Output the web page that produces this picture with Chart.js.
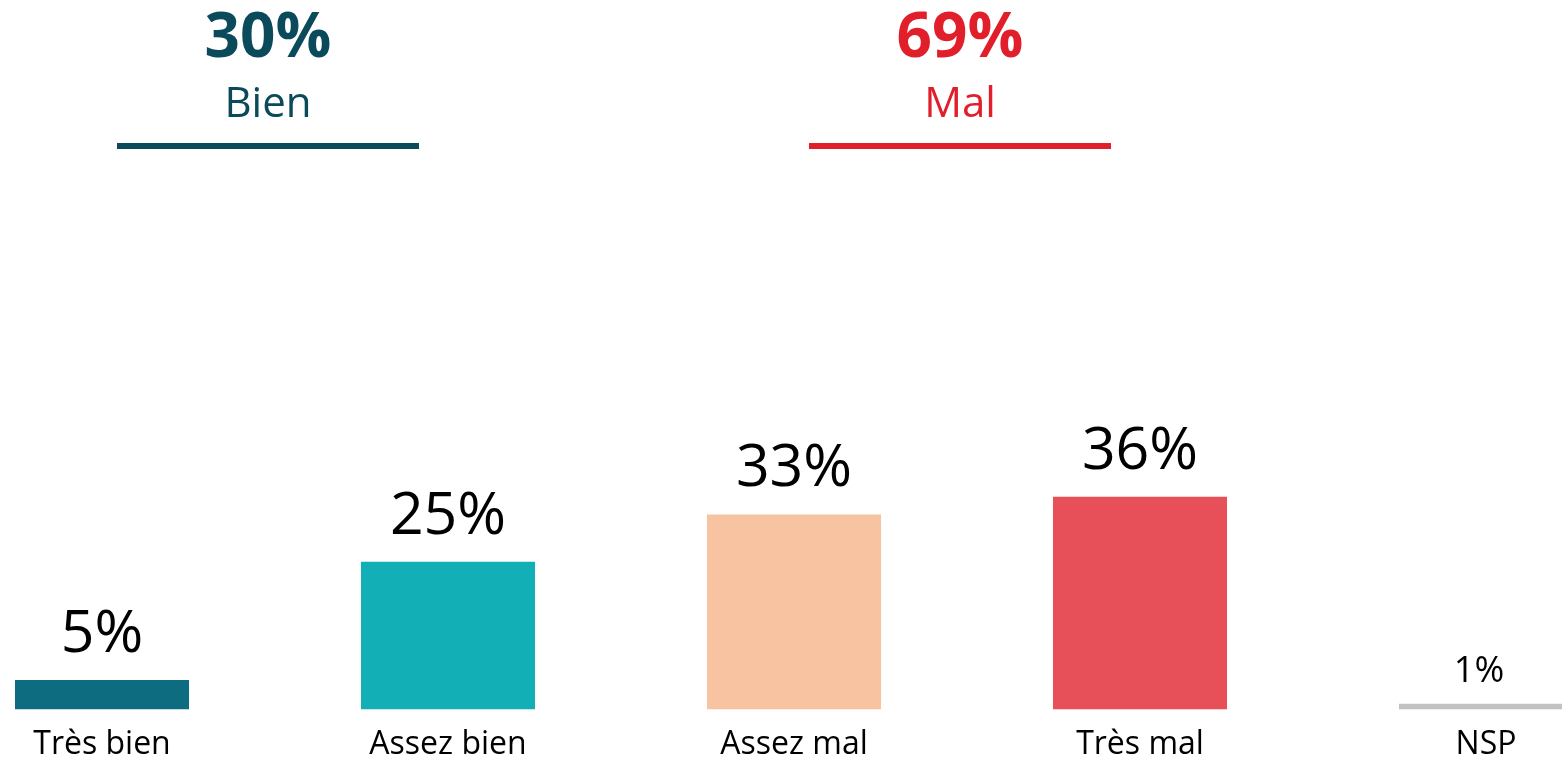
<!DOCTYPE html>
<html>
<head>
<meta charset="utf-8">
<script src="https://cdn.jsdelivr.net/npm/chart.js@4.4.1/dist/chart.umd.min.js"></script>
<style>
  html, body { margin: 0; padding: 0; background: #fff; overflow: hidden; }
  #wrap { position: absolute; left: -71px; top: 0; width: 1730px; height: 758px; }
</style>
</head>
<body>
<div id="wrap"><canvas id="myBarChart" width="1730" height="758"></canvas></div>
<script>
// données
const categories = ["Très bien", "Assez bien", "Assez mal", "Très mal", "NSP"];
const values = [5, 25, 33, 36, 1];
const barColors = ['#0e6c80', '#13afb7', '#f7c3a1', '#e75058', '#c2c2c2'];
const groupLabels = ["Bien", "Mal"];
const groupValues = [30, 69];
const groupMembers = [[0, 1], [2, 3]];
const groupColors = ['#0b4a5a', '#e01f2b'];

const FONT = "'Open Sans', sans-serif";

// pourcentages au-dessus des barres + titres de groupe
const labelsPlugin = {
  id: 'labelsPlugin',
  afterDatasetsDraw(chart) {
    const ctx = chart.ctx;
    const meta = chart.getDatasetMeta(0);
    const xs = chart.scales.x;
    ctx.save();
    ctx.textAlign = 'center';
    ctx.textBaseline = 'alphabetic';
    ctx.fillStyle = '#000';
    meta.data.forEach(function(bar, i) {
      const small = categories[i] === 'NSP';
      ctx.font = (small ? '36px ' : '59px ') + FONT;
      ctx.fillText(values[i] + '%', bar.x - (small ? 7 : 0), bar.y - (small ? 22 : 28));
    });
    // en-têtes Bien / Mal
    groupLabels.forEach(function(g, k) {
      const a = xs.getPixelForValue(groupMembers[k][0]);
      const b = xs.getPixelForValue(groupMembers[k][1]);
      const cx = (a + b) / 2 - 7;
      ctx.fillStyle = groupColors[k];
      ctx.font = 'bold 62px ' + FONT;
      ctx.fillText(groupValues[k] + '%', cx, 57);
      ctx.font = '42px ' + FONT;
      ctx.fillText(g, cx, 117);
      ctx.fillRect(cx - 151, 143, 302, 6);
    });
    ctx.restore();
  }
};

const ctx = document.getElementById("myBarChart");
const myBarChart = new Chart(ctx, {
  type: 'bar',
  data: {
    labels: categories,
    datasets: [{
      data: values,
      backgroundColor: barColors,
      borderWidth: 0,
      barPercentage: 0.503,
      categoryPercentage: 1
    }]
  },
  options: {
    responsive: false,
    animation: false,
    layout: { padding: { top: 0, bottom: -14, left: 0, right: 0 } },
    plugins: {
      legend: { display: false },
      tooltip: { enabled: false }
    },
    scales: {
      x: {
        grid: { display: false },
        border: { display: false },
        ticks: {
          color: '#000',
          padding: 8,
          font: { family: FONT, size: 32 }
        }
      },
      y: {
        display: false,
        min: 0,
        max: 120
      }
    }
  },
  plugins: [labelsPlugin]
});
</script>
</body>
</html>
